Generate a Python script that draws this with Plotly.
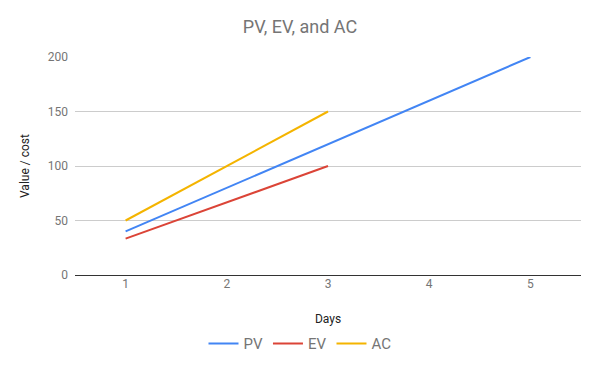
import plotly.graph_objects as go

days = [1, 2, 3, 4, 5]
pv = [40, 80, 120, 160, 200]
ev_days = [1, 2, 3]
ev = [33.33, 66.67, 100]
ac_days = [1, 2, 3]
ac = [50, 100, 150]
y_ticks = [0, 50, 100, 150, 200]

W, H = 592, 363  # page body has an 8px margin

fig = go.Figure()
fig.add_trace(go.Scatter(x=days, y=pv, mode="lines", name="PV",
                         line=dict(color="#4285F4", width=2), cliponaxis=False))
fig.add_trace(go.Scatter(x=ev_days, y=ev, mode="lines", name="EV",
                         line=dict(color="#DB4437", width=2), cliponaxis=False))
fig.add_trace(go.Scatter(x=ac_days, y=ac, mode="lines", name="AC",
                         line=dict(color="#F4B400", width=2), cliponaxis=False))

fig.update_layout(
    width=W, height=H,
    margin=dict(l=67, r=19, t=49, b=96, autoexpand=False),
    paper_bgcolor="white", plot_bgcolor="white",
    font=dict(family="Roboto", color="#757575", size=12),
    title=dict(text="PV, EV, and AC", x=292 / W, xanchor="center", xref="container",
               yref="container", y=1 - 19 / H, yanchor="middle",
               font=dict(family="Roboto", size=18, color="#757575")),
    xaxis=dict(range=[0.5, 5.5], tickvals=days, showgrid=False, zeroline=False,
               showline=False, ticks="", automargin=False,
               tickfont=dict(size=12, color="#757575"),
               title=dict(text="Days", font=dict(size=12, color="#222222"), standoff=24)),
    yaxis=dict(range=[0, 200], tickvals=y_ticks, showgrid=True, gridcolor="#CCCCCC",
               gridwidth=1, zeroline=True, zerolinecolor="#333333", zerolinewidth=1,
               showline=False, ticks="", ticklabelstandoff=6, automargin=False,
               tickfont=dict(size=12, color="#757575")),
    legend=dict(orientation="h", xref="container", x=292 / W, xanchor="center",
                y=-0.24, yanchor="top", itemwidth=30,
                font=dict(size=15, color="#757575")),
    showlegend=True,
)

fig.add_annotation(text="Value / cost", xref="paper", yref="paper", x=0, y=0.5,
                   xanchor="center", yanchor="middle", xshift=-50, textangle=-90,
                   showarrow=False, font=dict(family="Roboto", size=12, color="#222222"))

fig.write_html("out.html")
